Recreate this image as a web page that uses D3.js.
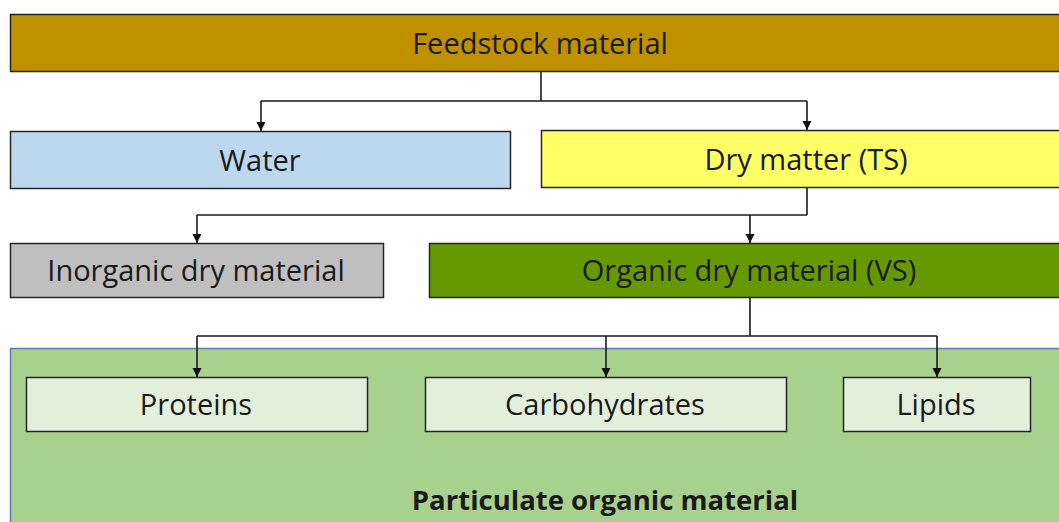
<!DOCTYPE html>
<html>
<head>
<meta charset="utf-8">
<script src="https://cdn.jsdelivr.net/npm/d3@7"></script>
<style>
  html, body { margin: 0; padding: 0; background: #fff; }
  svg { display: block; }
  text { font-family: "Open Sans", "Noto Sans", sans-serif; fill: #1a1a1a; }
</style>
</head>
<body>
<div id="vis"></div>
<script>
const width = 1059;
const height = 522;

// Diagram content
const levelLabels = ["Feedstock material", "Water", "Dry matter (TS)", "Inorganic dry material", "Organic dry material (VS)"];
const componentLabels = ["Proteins", "Carbohydrates", "Lipids"];
const groupLabel = "Particulate organic material";
const links = [
    { source: "Feedstock material", targets: ["Water", "Dry matter (TS)"] },
    { source: "Dry matter (TS)", targets: ["Inorganic dry material", "Organic dry material (VS)"] },
    { source: "Organic dry material (VS)", targets: ["Proteins", "Carbohydrates", "Lipids"] }
];
const fills = ["#bf9000", "#bdd7ee", "#ffff66", "#bfbfbf", "#669900"];

// Layout (pixels)
const boxes = {
    "Feedstock material":        { x0: 10,  x1: 1075, y0: 14,  y1: 71,  joint: 541 },
    "Water":                     { x0: 10,  x1: 510,  y0: 131, y1: 188, inX: 261 },
    "Dry matter (TS)":           { x0: 541, x1: 1075, y0: 130, y1: 187, inX: 807, joint: 807 },
    "Inorganic dry material":    { x0: 10,  x1: 383,  y0: 243, y1: 297, inX: 197 },
    "Organic dry material (VS)": { x0: 429, x1: 1075, y0: 243, y1: 297, inX: 750, joint: 750 },
    "Proteins":                  { x0: 26,  x1: 367,  y0: 377, y1: 431, inX: 197 },
    "Carbohydrates":             { x0: 425, x1: 786,  y0: 377, y1: 431, inX: 606 },
    "Lipids":                    { x0: 843, x1: 1030, y0: 377, y1: 431, inX: 937 }
};
const busY = { "Feedstock material": 101, "Dry matter (TS)": 215, "Organic dry material (VS)": 336 };

const color = d3.scaleOrdinal().domain(levelLabels).range(fills);

const svg = d3.select("#vis")
    .append("svg")
    .attr("width", width)
    .attr("height", height);

svg.append("defs").append("marker")
    .attr("id", "arrow")
    .attr("viewBox", "0 0 10 10")
    .attr("refX", 10)
    .attr("refY", 5)
    .attr("markerUnits", "userSpaceOnUse")
    .attr("markerWidth", 9)
    .attr("markerHeight", 10)
    .attr("orient", "auto")
    .append("path")
    .attr("d", "M0,0L10,5L0,10Z")
    .attr("fill", "#111");

// Particulate group background
svg.append("rect")
    .attr("x", 10.5).attr("y", 348.5)
    .attr("width", 1070).attr("height", 200)
    .attr("fill", "#a9d18e")
    .attr("stroke", "#5a7bb5")
    .attr("stroke-width", 1.5);

svg.append("text")
    .attr("x", 605).attr("y", 500)
    .attr("dy", "0.35em")
    .attr("text-anchor", "middle")
    .style("font-size", "27.5px")
    .style("font-weight", "bold")
    .text(groupLabel);

// Connectors
const line = d3.line();
const conn = svg.append("g")
    .attr("fill", "none")
    .attr("stroke", "#1a1a1a")
    .attr("stroke-width", 1.6);

links.forEach(l => {
    const s = boxes[l.source];
    const y = busY[l.source];
    const xs = l.targets.map(t => boxes[t].inX).concat([s.joint]);
    conn.append("path").attr("d", line([[s.joint, s.y1], [s.joint, y]]));
    conn.append("path").attr("d", line([[d3.min(xs), y], [d3.max(xs), y]]));
    l.targets.forEach(t => {
        const b = boxes[t];
        conn.append("path")
            .attr("d", line([[b.inX, y], [b.inX, b.y0]]))
            .attr("marker-end", "url(#arrow)");
    });
});

// Boxes
const all = levelLabels.map(k => ({ label: k, fill: color(k), size: 29 }))
    .concat(componentLabels.map(k => ({ label: k, fill: "#e2efda", size: 29 })));

const node = svg.append("g")
    .selectAll("g")
    .data(all)
    .enter().append("g");

node.append("rect")
    .attr("x", d => boxes[d.label].x0 + 0.5)
    .attr("y", d => boxes[d.label].y0 + 0.5)
    .attr("width", d => boxes[d.label].x1 - boxes[d.label].x0)
    .attr("height", d => boxes[d.label].y1 - boxes[d.label].y0)
    .attr("fill", d => d.fill)
    .attr("stroke", "#262626")
    .attr("stroke-width", 1.5);

const labelX = {
    "Feedstock material": 540, "Water": 260, "Dry matter (TS)": 806,
    "Inorganic dry material": 196, "Organic dry material (VS)": 749,
    "Proteins": 196, "Carbohydrates": 605, "Lipids": 936
};

node.append("text")
    .attr("x", d => labelX[d.label])
    .attr("y", d => (boxes[d.label].y0 + boxes[d.label].y1) / 2 + 1)
    .attr("dy", "0.35em")
    .attr("text-anchor", "middle")
    .style("font-size", d => d.size + "px")
    .text(d => d.label);
</script>
</body>
</html>
